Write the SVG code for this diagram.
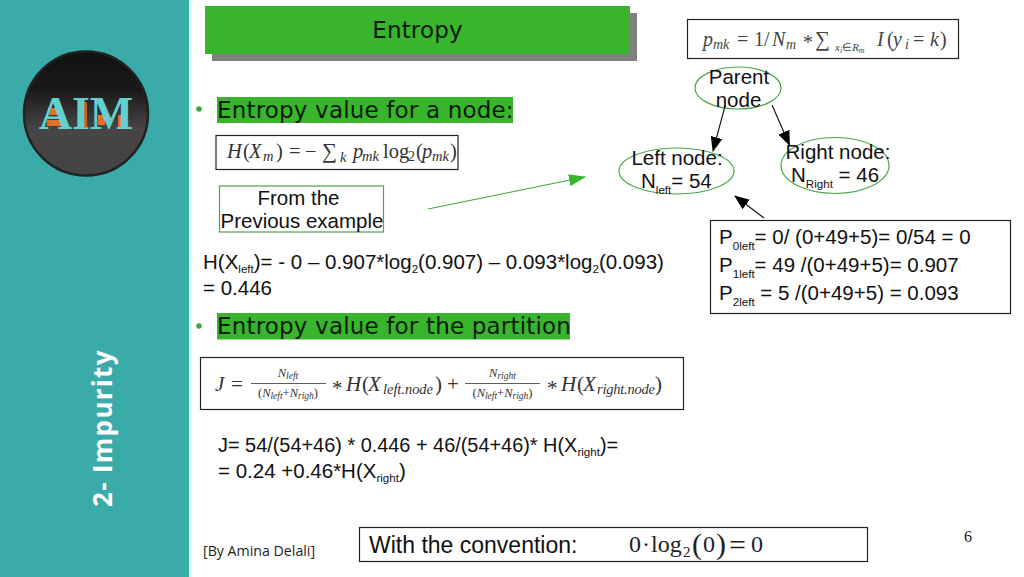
<svg xmlns="http://www.w3.org/2000/svg" width="1024" height="577" viewBox="0 0 1024 577">
<style>
.s{font-family:"Liberation Sans",Arial,sans-serif;font-size:20.500px;fill:#111}
.d{font-family:"DejaVu Sans",sans-serif;font-size:23px;fill:#0a1a0a;letter-spacing:.18px}
.m{font-family:"Liberation Serif","Times New Roman",serif;fill:#333}
.i{font-style:italic}
.box{fill:#fff;stroke:#222;stroke-width:1.2}
.g{fill:none;stroke:#4aa84a;stroke-width:1.2}
.hl{fill:#38b52c}
.c{text-anchor:middle}
.sub{font-size:11.600px}
.ln{stroke:#111;stroke-width:1.1;fill:none}
.bu{fill:#3fa83f}
</style>
<defs>
<marker id="ab" markerUnits="userSpaceOnUse" markerWidth="16" markerHeight="12" refX="14" refY="6" orient="auto"><path d="M0,0L15,6L0,12Z" fill="#000"/></marker>
<marker id="ag" markerUnits="userSpaceOnUse" markerWidth="18" markerHeight="12" refX="16" refY="6" orient="auto"><path d="M0,0L17,6L0,12Z" fill="#38b52c"/></marker>
<linearGradient id="lg" x1="0" y1="0" x2="0" y2="1"><stop offset="0" stop-color="#111"/><stop offset=".3" stop-color="#1a1718"/><stop offset=".55" stop-color="#3c3a3b"/><stop offset=".63" stop-color="#474546"/><stop offset="1" stop-color="#444243"/></linearGradient>
</defs>
<rect width="1024" height="577" fill="#fff"/>
<rect id="sidebar" width="189" height="577" fill="#3aaba8"/>
<rect x="190" width="1.500" height="577" fill="#cdf5f5"/>
<g id="logo">
<circle cx="86" cy="113.500" r="62" fill="url(#lg)" stroke="#222" stroke-width="2.500"/>
<path d="M48,108h12v7h-12zM47,120h15v6h-15zM98,115h7v10h-7zM118,115h4v12h-4z" fill="#e0702a"/>
<text x="86" y="129" class="c" style="font-family:'Liberation Serif',serif;font-size:46px;font-weight:700;fill:#62d0cf">AIM</text>
<rect x="84" y="102" width="3" height="26" fill="#e0702a" opacity=".8"/>
</g>
<text id="vertical" transform="translate(112,507) rotate(-90)" style="font-family:'Open Sans',sans-serif;font-weight:700;font-size:26px;letter-spacing:1.300px;fill:#fff">2- Impurity</text>

<g id="title">
<rect x="212" y="13" width="425" height="48" fill="#808080"/>
<rect x="205" y="6" width="425" height="48" class="hl"/>
<text x="417.500" y="38" class="d c">Entropy</text>
</g>

<g id="heading-node">
<circle cx="199" cy="109" r="2.800" class="bu"/>
<rect x="217" y="97" width="296" height="26" class="hl"/>
<text x="217" y="117.500" class="d">Entropy value for a node:</text>
</g>
<g id="formula-h">
<rect x="216" y="135.500" width="242" height="34" class="box"/>
<text y="158" class="m" style="font-size:20.500px"><tspan class="i" x="227">H</tspan><tspan x="243">(</tspan><tspan class="i" x="249">X</tspan><tspan class="i" font-size="14.500" x="263" dy="3">m</tspan><tspan x="276" dy="-3">)</tspan><tspan x="289">=</tspan><tspan x="305">−</tspan><tspan x="322" font-size="21">∑</tspan><tspan class="i" font-size="14.500" x="340" dy="4">k</tspan><tspan class="i" x="353" dy="-4">p</tspan><tspan class="i" font-size="14.500" x="362" dy="3">mk</tspan><tspan x="383" dy="-3">log</tspan><tspan font-size="14" x="408" dy="3">2</tspan><tspan x="416" dy="-3">(</tspan><tspan class="i" x="422">p</tspan><tspan class="i" font-size="14.500" x="432" dy="3">mk</tspan><tspan x="450" dy="-3">)</tspan></text>
</g>
<g id="from-box">
<rect x="219.500" y="186" width="164" height="46" class="g"/>
<text x="298.500" y="205" class="s c">From the</text>
<text x="302" y="228" class="s c">Previous example</text>
</g>
<g id="h-calc">
<text x="203" y="269" class="s">H(X<tspan class="sub" dy="4">left</tspan><tspan dy="-4">)= - 0 – 0.907*log</tspan><tspan class="sub" dy="4">2</tspan><tspan dy="-4">(0.907) – 0.093*log</tspan><tspan class="sub" dy="4">2</tspan><tspan dy="-4">(0.093)</tspan></text>
<text x="203" y="295" class="s">= 0.446</text>
</g>
<g id="heading-partition">
<circle cx="199" cy="326" r="2.800" class="bu"/>
<rect x="217" y="313" width="353" height="26.500" class="hl"/>
<text x="217" y="333.500" class="d">Entropy value for the partition</text>
</g>
<g id="formula-j">
<rect x="200.500" y="357.500" width="483" height="52" class="box"/>
<text x="215" y="390.500" class="m i" style="font-size:21px">J</text>
<text x="231" y="390.500" class="m" style="font-size:21px">=</text>
<text x="288" y="377" class="m i c" style="font-size:12.500px">N<tspan font-size="9.500" dy="2">left</tspan></text>
<path d="M251,383.500H326M465,383.500H540" stroke="#333" stroke-width=".8"/>
<text x="288" y="397" class="m c" style="font-size:12.500px">(<tspan class="i">N</tspan><tspan class="i" font-size="9.500" dy="2">left</tspan><tspan dy="-2">+</tspan><tspan class="i">N</tspan><tspan class="i" font-size="9.500" dy="2">righ</tspan><tspan dy="-2">)</tspan></text>
<text y="390.500" class="m" style="font-size:21px"><tspan x="332" dy="4">*</tspan><tspan class="i" x="346" dy="-4">H</tspan><tspan x="362">(</tspan><tspan class="i" x="368">X</tspan><tspan class="i" font-size="14.500" x="383" dy="3.500" textLength="50">left.node</tspan><tspan x="435" dy="-3.500">)</tspan><tspan x="447">+</tspan></text>
<text x="502.500" y="377" class="m i c" style="font-size:12.500px">N<tspan font-size="9.500" dy="2">right</tspan></text>
<text x="502.500" y="397" class="m c" style="font-size:12.500px">(<tspan class="i">N</tspan><tspan class="i" font-size="9.500" dy="2">left</tspan><tspan dy="-2">+</tspan><tspan class="i">N</tspan><tspan class="i" font-size="9.500" dy="2">righ</tspan><tspan dy="-2">)</tspan></text>
<text y="390.500" class="m" style="font-size:21px"><tspan x="547" dy="4">*</tspan><tspan class="i" x="561" dy="-4">H</tspan><tspan x="577">(</tspan><tspan class="i" x="583">X</tspan><tspan class="i" font-size="14.500" x="597" dy="3.500" textLength="58">right.node</tspan><tspan x="655" dy="-3.500">)</tspan></text>
</g>
<g id="j-calc">
<text x="218" y="452" class="s" style="font-size:19.900px">J= 54/(54+46) * 0.446 + 46/(54+46)* H(X<tspan class="sub" dy="4">right</tspan><tspan dy="-4">)=</tspan></text>
<text x="218" y="478" class="s">= 0.24 +0.46*H(X<tspan class="sub" dy="4">right</tspan><tspan dy="-4">)</tspan></text>
</g>
<text id="author" x="203" y="556" style="font-family:'Open Sans',sans-serif;font-size:14.200px;fill:#222">[By Amina Delali]</text>
<g id="convention">
<rect x="359.500" y="527.500" width="508" height="34" class="box"/>
<text x="369" y="553" class="s" style="font-size:23px">With the convention:</text>
<text y="552" class="m" style="font-size:24px;fill:#222"><tspan x="629">0</tspan><tspan x="642">·</tspan><tspan x="651">log</tspan><tspan font-size="15" x="683" dy="5">2</tspan><tspan font-size="30" x="692" dy="-3">(</tspan><tspan x="703" dy="-2">0</tspan><tspan font-size="30" x="716" dy="2">)</tspan><tspan font-size="30" x="729" dy="1">=</tspan><tspan x="751" dy="-3">0</tspan></text>
</g>
<text id="page" x="968" y="542" class="m c" style="font-size:16px;fill:#222">6</text>

<g id="formula-p">
<rect x="687.500" y="19.500" width="271" height="39" class="box"/>
<text y="46" class="m" style="font-size:20px;fill:#444"><tspan class="i" x="703">p</tspan><tspan class="i" font-size="14" x="713" dy="3">mk</tspan><tspan x="737" dy="-3">=</tspan><tspan x="754">1/</tspan><tspan class="i" x="772">N</tspan><tspan class="i" font-size="14" x="786" dy="3">m</tspan><tspan x="803" dy="0">*</tspan><tspan x="815" dy="-3" font-size="21">∑</tspan><tspan class="i" font-size="11" x="835" dy="5">x</tspan><tspan class="i" font-size="8" dy="2">i</tspan><tspan font-size="11" dy="-2">∈</tspan><tspan class="i" font-size="11">R</tspan><tspan class="i" font-size="8" dy="2">m</tspan><tspan class="i" x="877" dy="-7">I</tspan><tspan x="887">(</tspan><tspan class="i" x="893">y</tspan><tspan class="i" font-size="14" x="905" dy="3">i</tspan><tspan x="913" dy="-3">=</tspan><tspan class="i" x="930">k</tspan><tspan x="940">)</tspan></text>
</g>
<g id="node-parent">
<ellipse cx="738" cy="88" rx="43" ry="21" class="g"/>
<text x="739" y="84" class="s c">Parent</text>
<text x="738.500" y="107" class="s c">node</text>
</g>
<g id="node-left">
<ellipse cx="676.500" cy="171" rx="57.500" ry="23" class="g"/>
<text x="677" y="165" class="s c">Left node:</text>
<text x="641" y="188" class="s">N<tspan class="sub" dy="6">left</tspan><tspan dy="-6">= 54</tspan></text>
</g>
<g id="node-right">
<ellipse cx="835" cy="165.500" rx="54" ry="28" class="g"/>
<text x="838" y="159" class="s c">Right node:</text>
<text x="791" y="182" class="s">N<tspan class="sub" dy="6">Right</tspan><tspan dy="-6"> = 46</tspan></text>
</g>
<g id="probs">
<rect x="710.500" y="220.500" width="300" height="93" class="box"/>
<text x="719" y="244" class="s">P<tspan class="sub" dy="6">0left</tspan><tspan dy="-6">= 0/ (0+49+5)= 0/54 = 0</tspan></text>
<text x="719" y="272" class="s">P<tspan class="sub" dy="6">1left</tspan><tspan dy="-6">= 49 /(0+49+5)= 0.907</tspan></text>
<text x="719" y="300" class="s">P<tspan class="sub" dy="6">2left</tspan><tspan dy="-6"> = 5 /(0+49+5) = 0.093</tspan></text>
</g>
<g id="connectors">
<path d="M428,209L585,177" fill="none" stroke="#38a838" stroke-width="1" marker-end="url(#ag)"/>
<path d="M725,106L713,151" class="ln" marker-end="url(#ab)"/>
<path d="M772,105L789.500,145" class="ln" marker-end="url(#ab)"/>
<path d="M764,218L735,196" class="ln" marker-end="url(#ab)"/>
</g>
</svg>
